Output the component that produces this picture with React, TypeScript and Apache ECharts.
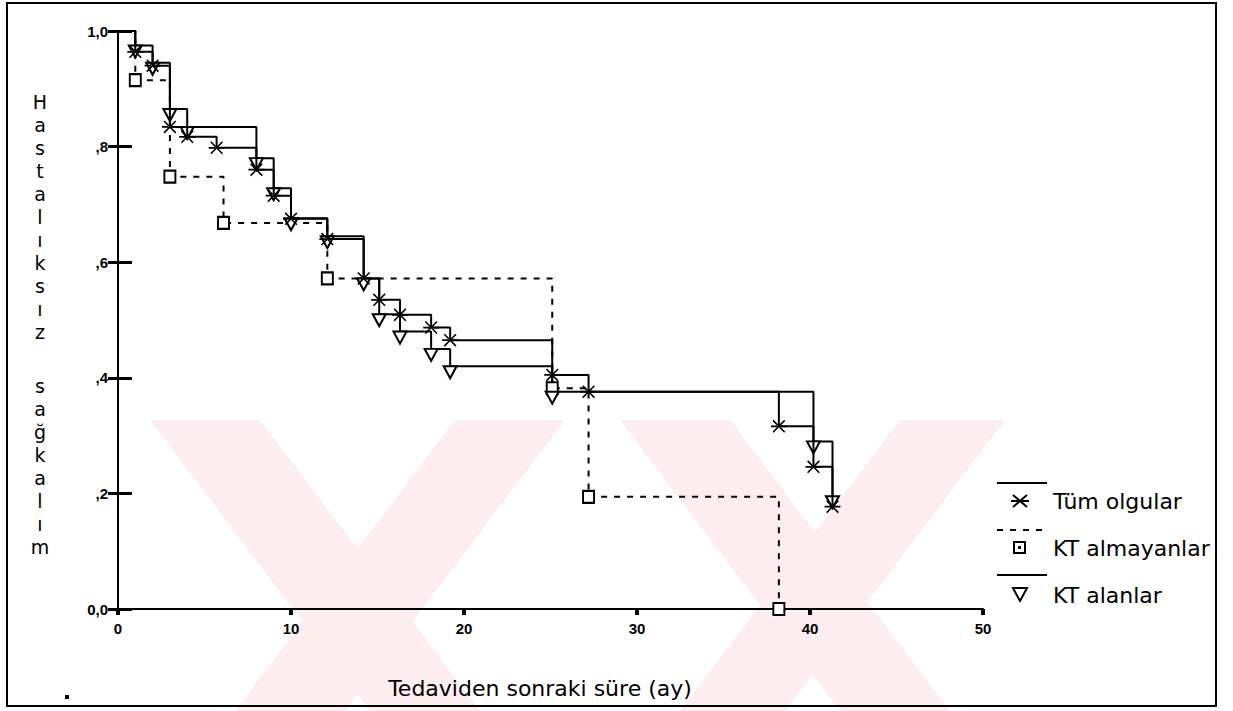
import React, { useEffect, useRef } from 'react';
import * as echarts from 'echarts';

// Tüm olgular (all cases)
const tumT = [0, 1, 2, 3, 4, 5.7, 8, 9, 10, 12.1, 14.2, 15.1, 16.3, 18.1, 19.2, 25.1, 27.2, 38.2, 40.2, 41.3];
const tumS = [1, 0.964, 0.94, 0.834, 0.817, 0.798, 0.76, 0.715, 0.675, 0.64, 0.572, 0.535, 0.509, 0.487, 0.465, 0.405, 0.376, 0.316, 0.246, 0.177];
// KT almayanlar
const almT = [0, 1, 3, 6.1, 12.1, 25.1, 27.2, 38.2];
const almS = [1, 0.915, 0.748, 0.668, 0.572, 0.382, 0.194, 0.0];
// KT alanlar
const alaT = [0, 1, 2, 3, 4, 8, 9, 10, 12.1, 14.2, 15.1, 16.3, 18.1, 19.2, 25.1, 40.2, 41.3];
const alaS = [1, 0.975, 0.945, 0.865, 0.834, 0.78, 0.728, 0.676, 0.645, 0.572, 0.51, 0.48, 0.45, 0.42, 0.376, 0.29, 0.195];

const xTicks = [0, 10, 20, 30, 40, 50];
const yTickLabels: Record<string, string> = { '0': '0,0', '0.2': ',2', '0.4': ',4', '0.6': ',6', '0.8': ',8', '1': '1,0' };

const seriesNames = ['Tüm olgular', 'KT almayanlar', 'KT alanlar'];
const xTitle = 'Tedaviden sonraki süre (ay)';
const yTitle1 = 'Hastalıksız';
const yTitle2 = 'sağkalım';

const ASTERISK =
  'path://M-10,-1.1L10,-1.1L10,1.1L-10,1.1Z M-8,-6.8L6.6,8.2L8,6.8L-6.6,-8.2Z M-8,6.8L6.6,-8.2L8,-6.8L-6.6,8.2Z';

function toData(ts: number[], ss: number[]) {
  return ts.map((t, i) => (i === 0 ? { value: [t, ss[i]], symbol: 'none' } : [t, ss[i]]));
}

const FONT = 'DejaVu Sans';

export default function App() {
  const ref = useRef<HTMLDivElement>(null);
  useEffect(() => {
    if (!ref.current) return;
    const chart = echarts.init(ref.current, null, { renderer: 'svg' });
    const pink = '#fdedf0';
    const wm = (pts: number[][]) => ({ type: 'polygon', z: -10, silent: true, shape: { points: pts }, style: { fill: pink } });
    const letters = (word: string, y0: number, step: number) =>
      word.split('').map((ch, i) => ({
        type: 'text', z: 50, x: 40, y: y0 + i * step,
        style: { text: ch, fontSize: 19, fontFamily: FONT, align: 'center', verticalAlign: 'middle', fill: '#000' },
      }));
    const option: any = {
      animation: false,
      backgroundColor: '#fff',
      grid: { left: 118, right: 250, top: 31, bottom: 102, containLabel: false, outerBoundsMode: 'none' },
      xAxis: {
        type: 'value', min: 0, max: 50, interval: 10,
        axisLine: { show: true, onZero: false, lineStyle: { color: '#000', width: 2 } },
        axisTick: { show: true, inside: false, length: 6, lineStyle: { color: '#000', width: 4 } },
        axisLabel: {
          margin: 12, color: '#000', fontSize: 15, fontFamily: 'Liberation Sans', fontWeight: 'bold',
          formatter: (v: number) => (xTicks.includes(v) ? String(v) : ''),
        },
        splitLine: { show: false },
      },
      yAxis: [
        {
          type: 'value', min: 0, max: 1, interval: 0.2,
          axisLine: { show: true, onZero: false, lineStyle: { color: '#000', width: 2 } },
          axisTick: { show: true, inside: false, length: 10, lineStyle: { color: '#000', width: 3 } },
          axisLabel: {
            margin: 10, color: '#000', fontSize: 15, fontFamily: 'Liberation Sans', fontWeight: 'bold',
            formatter: (v: number) => yTickLabels[String(Math.round(v * 10) / 10)] ?? '',
          },
          splitLine: { show: false },
        },
        {
          type: 'value', min: 0, max: 1, interval: 0.2, position: 'left', offset: 0,
          axisLine: { show: false },
          axisTick: { show: true, inside: true, length: 14, lineStyle: { color: '#000', width: 3 } },
          axisLabel: { show: false },
          splitLine: { show: false },
        },
      ],
      series: [
        {
          name: seriesNames[0], type: 'line', step: 'end', data: toData(tumT, tumS),
          symbol: ASTERISK, symbolSize: [16, 13], showAllSymbol: true,
          lineStyle: { color: '#000', width: 2 },
          itemStyle: { color: '#000' }, z: 4,
        },
        {
          name: seriesNames[1], type: 'line', step: 'end', data: toData(almT, almS),
          symbol: 'rect', symbolSize: [11, 12], showAllSymbol: true,
          lineStyle: { color: '#000', width: 2, type: [6, 7] },
          itemStyle: { color: '#fff', borderColor: '#000', borderWidth: 2 }, z: 3,
        },
        {
          name: seriesNames[2], type: 'line', step: 'end', data: toData(alaT, alaS),
          symbol: 'triangle', symbolRotate: 180, symbolSize: [13, 12], symbolOffset: [0, 6], showAllSymbol: true,
          lineStyle: { color: '#000', width: 2 },
          itemStyle: { color: '#fff', borderColor: '#000', borderWidth: 2 }, z: 3,
        },
      ],
      graphic: [
        // watermark (approximate)
        wm([[150, 420], [260, 420], [480, 711], [370, 711]]),
        wm([[455, 420], [565, 420], [345, 711], [235, 711]]),
        wm([[620, 420], [730, 420], [950, 711], [840, 711]]),
        wm([[900, 420], [1005, 420], [785, 711], [680, 711]]),
        // frame
        { type: 'rect', z: 50, silent: true, shape: { x: 7, y: 3, width: 1209, height: 703 }, style: { fill: 'none', stroke: '#000', lineWidth: 2 } },
        { type: 'rect', z: 50, silent: true, shape: { x: 65, y: 695, width: 4, height: 4 }, style: { fill: '#000' } },
        // y title
        ...letters(yTitle1, 102, 23),
        ...letters(yTitle2, 386, 23),
        // x title
        {
          type: 'text', z: 50, x: 540, y: 688,
          style: { text: xTitle, fontSize: 22, fontFamily: FONT, align: 'center', verticalAlign: 'middle', fill: '#000' },
        },
        // legend
        { type: 'line', z: 50, shape: { x1: 997, y1: 483, x2: 1047, y2: 483 }, style: { stroke: '#000', lineWidth: 2 } },
        { type: 'line', z: 50, shape: { x1: 1011, y1: 501, x2: 1029, y2: 501 }, style: { stroke: '#000', lineWidth: 2 } },
        { type: 'line', z: 50, shape: { x1: 1013, y1: 495, x2: 1027, y2: 507 }, style: { stroke: '#000', lineWidth: 2 } },
        { type: 'line', z: 50, shape: { x1: 1013, y1: 507, x2: 1027, y2: 495 }, style: { stroke: '#000', lineWidth: 2 } },
        { type: 'text', z: 50, x: 1053, y: 501, style: { text: seriesNames[0], fontSize: 22, fontFamily: FONT, verticalAlign: 'middle', fill: '#000' } },
        { type: 'line', z: 50, shape: { x1: 997, y1: 530, x2: 1047, y2: 530 }, style: { stroke: '#000', lineWidth: 2, lineDash: [6, 7] } },
        { type: 'rect', z: 50, shape: { x: 1014, y: 542, width: 11, height: 11 }, style: { fill: '#fff', stroke: '#000', lineWidth: 2 } },
        { type: 'rect', z: 51, shape: { x: 1018, y: 546, width: 3, height: 3 }, style: { fill: '#000' } },
        { type: 'text', z: 50, x: 1053, y: 548, style: { text: seriesNames[1], fontSize: 22, fontFamily: FONT, verticalAlign: 'middle', fill: '#000' } },
        { type: 'line', z: 50, shape: { x1: 997, y1: 575, x2: 1047, y2: 575 }, style: { stroke: '#000', lineWidth: 2 } },
        { type: 'polygon', z: 50, shape: { points: [[1013, 588], [1027, 588], [1020, 601]] }, style: { fill: '#fff', stroke: '#000', lineWidth: 2 } },
        { type: 'text', z: 50, x: 1053, y: 595, style: { text: seriesNames[2], fontSize: 22, fontFamily: FONT, verticalAlign: 'middle', fill: '#000' } },
      ],
    };
    chart.setOption(option);
    return () => chart.dispose();
  }, []);
  return <div ref={ref} style={{ position: 'fixed', left: 0, top: 0, width: 1233, height: 711, background: '#fff' }} />;
}
